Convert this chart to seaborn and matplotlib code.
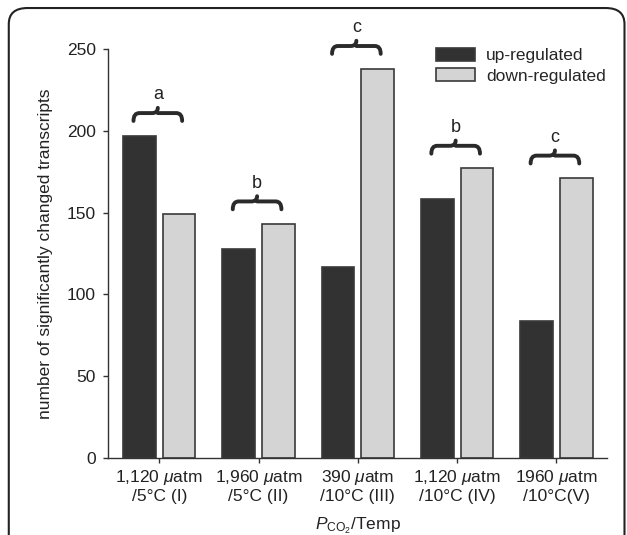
import numpy as np
import pandas as pd
import matplotlib
matplotlib.use("Agg")
import matplotlib.pyplot as plt
import seaborn as sns
from matplotlib.path import Path
from matplotlib.patches import PathPatch, FancyBboxPatch

# Data
conditions = ["I", "II", "III", "IV", "V"]
tick_labels = [
    "1,120 $\\mathit{μ}$atm\n/5°C (I)",
    "1,960 $\\mathit{μ}$atm\n/5°C (II)",
    "390 $\\mathit{μ}$atm\n/10°C (III)",
    "1,120 $\\mathit{μ}$atm\n/10°C (IV)",
    "1960 $\\mathit{μ}$atm\n/10°C(V)",
]
up_regulated = [197, 128, 117, 158, 84]
down_regulated = [149, 143, 238, 177, 171]
group_letters = ["a", "b", "c", "b", "c"]

df = pd.DataFrame({
    "condition": conditions * 2,
    "count": up_regulated + down_regulated,
    "type": ["up-regulated"] * 5 + ["down-regulated"] * 5,
})

sns.set_style("ticks")
plt.rcParams["font.family"] = ["Liberation Sans", "DejaVu Sans"]
plt.rcParams["mathtext.fontset"] = "custom"
plt.rcParams["mathtext.rm"] = "Liberation Sans"
plt.rcParams["mathtext.it"] = "Liberation Sans:italic"

fs = 12.5
fig = plt.figure(figsize=(6.27, 5.35), dpi=100)
ax = fig.add_axes([0.1722, 0.144, 0.796, 0.7645])

dark, light, edge = "#323232", "#d4d4d4", "#3a3a3a"
sns.barplot(data=df, x="condition", y="count", hue="type", order=conditions,
            palette={"up-regulated": dark, "down-regulated": light},
            width=0.8, gap=0.18, edgecolor=edge, linewidth=1.2,
            saturation=1, ax=ax)

ax.set_xlim(-0.517, 4.51)
ax.set_ylim(0, 250)
ax.set_yticks([0, 50, 100, 150, 200, 250])
ax.set_xticks(range(5))
ax.set_xticklabels(tick_labels, fontsize=fs, color="#222222")
ax.tick_params(axis="y", labelsize=fs, labelcolor="#222222", pad=5)
ax.tick_params(direction="out", length=3.6, width=1, color="#333333")
for s in ["top", "right"]:
    ax.spines[s].set_visible(False)
for s in ["left", "bottom"]:
    ax.spines[s].set_color("#333333")
    ax.spines[s].set_linewidth(1)

ax.set_ylabel("number of significantly changed transcripts", fontsize=fs,
              color="#222222", labelpad=10)
ax.set_xlabel("$\\mathit{P}_{\\mathrm{CO_2}}$/Temp", fontsize=fs,
              color="#222222", labelpad=8)

leg = ax.legend(loc="upper left", bbox_to_anchor=(0.625, 1.041), frameon=False,
                fontsize=fs, handlelength=2.3, handleheight=0.75,
                handletextpad=0.6, labelspacing=0.3)


def brace(x0, x1, yb, h):
    xm = (x0 + x1) / 2
    d = (x1 - x0) * 0.12
    verts = [
        (x0, yb), (x0, yb + h * 0.6), (x0 + d, yb + h * 0.6),
        (xm - d, yb + h * 0.6), (xm, yb + h * 0.6), (xm, yb + h),
        (xm, yb + h * 0.6), (xm + d, yb + h * 0.6),
        (x1 - d, yb + h * 0.6), (x1, yb + h * 0.6), (x1, yb),
    ]
    codes = [Path.MOVETO, Path.CURVE3, Path.CURVE3, Path.LINETO,
             Path.CURVE3, Path.CURVE3, Path.MOVETO, Path.CURVE3,
             Path.LINETO, Path.CURVE3, Path.CURVE3]
    ax.add_patch(PathPatch(Path(verts, codes), fill=False, lw=2.8,
                           color="#2a2a2a", capstyle="round", clip_on=False))


for i, (u, d, letter) in enumerate(zip(up_regulated, down_regulated, group_letters)):
    m = max(u, d)
    brace(i - 0.26, i + 0.23, m + 9, 8)
    ax.text(i - 0.015, m + 25, letter, ha="center", va="center", fontsize=13,
            color="#222222")

frame = FancyBboxPatch((0.014, -0.1), 0.982, 1.085, transform=fig.transFigure,
                       boxstyle="round,pad=0,rounding_size=0.03", fill=False,
                       lw=1.5, ec="#222222", clip_on=False)
fig.patches.append(frame)

fig.savefig("out.png", dpi=100)
